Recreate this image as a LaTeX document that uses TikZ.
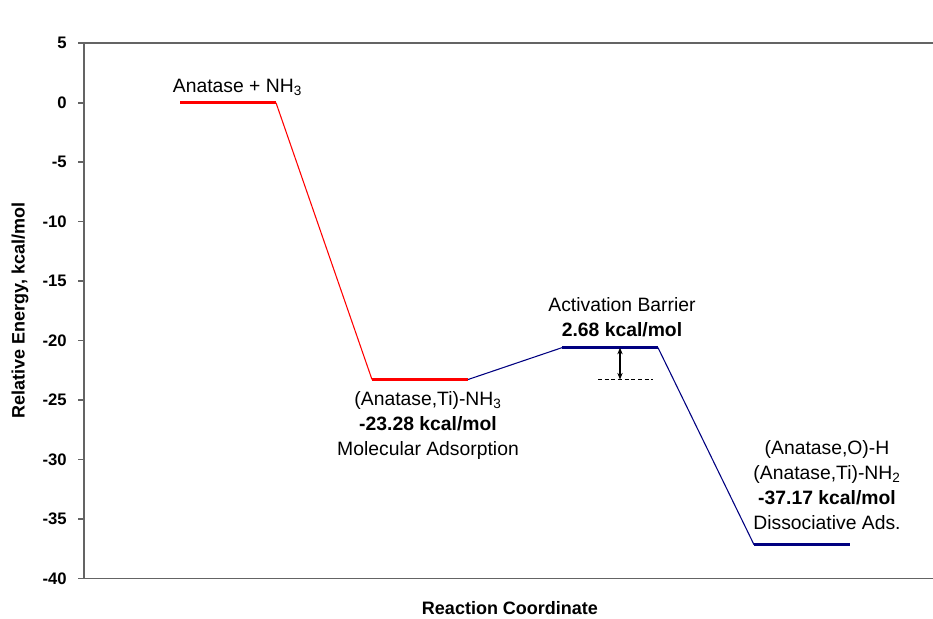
\documentclass[tikz,border=0pt]{standalone}
\usepackage{fontspec}
\setmainfont{Liberation Sans}
\usetikzlibrary{arrows.meta}
\definecolor{axisgray}{RGB}{100,100,100}
\definecolor{adsblue}{RGB}{0,0,128}
\tikzset{
  level/.style={line width=2.3pt},
  link/.style={line width=0.8pt},
  axisline/.style={axisgray, line width=1.2pt},
  lbl/.style={inner sep=0pt, align=center, font=\fontsize{14.5}{18.8}\selectfont},
  ticklbl/.style={anchor=east, inner sep=0pt, font=\fontsize{12.5}{14}\selectfont\bfseries},
  axtitle/.style={inner sep=0pt, font=\fontsize{13.5}{16}\selectfont\bfseries},
}
\begin{document}
\begin{tikzpicture}[x=0.75pt, y=8.9175pt]
\useasboundingbox (0,-43.42) rectangle (933,8.64);
% axes
\draw[axisline] (84,-40) -- (84,5) -- (933,5);
\draw[axisline] (84,-40) -- (933,-40);
\foreach \v in {5,0,...,-40}{
  \draw[axisline] (78,\v) -- (84,\v);
  \node[ticklbl] (tick\v) at (67,\v) {\v};
}
\node[axtitle, rotate=90] (ytitle) at (20,-17.46) {Relative Energy, kcal/mol};
\node[axtitle] (xtitle) at (510,-42.5) {Reaction Coordinate};
% energy levels
\coordinate (r0a) at (180,0);
\coordinate (r0b) at (276,0);
\coordinate (r1a) at (372,-23.28);
\coordinate (r1b) at (468,-23.28);
\coordinate (b2a) at (562,-20.60);
\coordinate (b2b) at (658,-20.60);
\coordinate (b3a) at (754,-37.17);
\coordinate (b3b) at (850,-37.17);
\draw[level, red] (r0a) -- (r0b);
\draw[level, red] (r1a) -- (r1b);
\draw[level, adsblue] (b2a) -- (b2b);
\draw[level, adsblue] (b3a) -- (b3b);
\draw[link, red] (r0b) -- (r1a);
\draw[link, adsblue] (r1b) -- (b2a);
\draw[link, adsblue] (b2b) -- (b3a);
% barrier
\coordinate (barrtop) at (620,-20.60);
\coordinate (barrbot) at (620,-23.28);
\coordinate (dashl) at (598,-23.28);
\coordinate (dashr) at (653,-23.28);
\draw[line width=0.6pt, dash pattern=on 3pt off 2pt] (dashl) -- (dashr);
\draw[line width=0.8pt, {Stealth[length=5pt,width=4pt]}-{Stealth[length=5pt,width=4pt]}] (barrtop) -- (barrbot);
% labels
\node[lbl, anchor=base] (reactlbl) at (237.5,0.82) {Anatase + NH\textsubscript{3}};
\node[lbl, anchor=north] (moladslbl) at (428,-24.25) {(Anatase,Ti)-NH\textsubscript{3}\\\textbf{-23.28 kcal/mol}\\Molecular Adsorption};
\node[lbl, anchor=north] (barrlbl) at (622,-16.37) {Activation Barrier\\\textbf{2.68 kcal/mol}};
\node[lbl, anchor=north] (dissadslbl) at (827,-28.39) {(Anatase,O)-H\\(Anatase,Ti)-NH\textsubscript{2}\\\textbf{-37.17 kcal/mol}\\Dissociative Ads.};
\end{tikzpicture}
\end{document}
